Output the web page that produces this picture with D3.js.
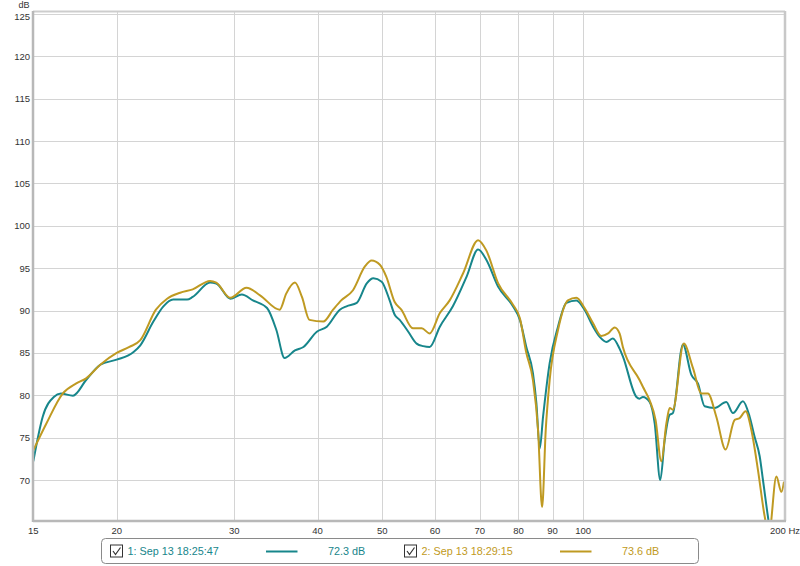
<!DOCTYPE html>
<html>
<head>
<meta charset="utf-8">
<script src="https://cdn.jsdelivr.net/npm/d3@7/dist/d3.min.js"></script>
<style>
  html, body { margin: 0; padding: 0; background: #fff; }
  svg { display: block; }
  text { font-family: "Liberation Sans", Arial, sans-serif; }
</style>
</head>
<body>
<svg id="chart" width="800" height="566"></svg>
<script>
// ---- Data ----
const xTicks = [15, 20, 30, 40, 50, 60, 70, 80, 90, 100, 200];
const xTickLabels = ["15", "20", "30", "40", "50", "60", "70", "80", "90", "100", "200 Hz"];
const yTicks = [70, 75, 80, 85, 90, 95, 100, 105, 110, 115, 120, 125];

const seriesNames = ["1: Sep 13 18:25:47", "2: Sep 13 18:29:15"];
const seriesLevels = ["72.3 dB", "73.6 dB"];
const seriesColors = ["#17868b", "#bf9a22"];

const freq1 = [15.0, 15.5, 16.1, 16.5, 17.2, 18.0, 18.9, 20.0, 21.2, 21.7, 22.7, 23.5, 24.3, 25.5, 26.0, 27.6, 28.2,
  29.6, 30.8, 32.0, 33.6, 34.7, 35.7, 37.0, 38.1, 39.9, 41.3, 43.2, 44.2, 45.8, 47.4, 48.5, 49.9, 51.3, 52.2,
  53.1, 54.7, 56.3, 57.6, 58.9, 61.0, 63.8, 66.9, 69.6, 71.6, 74.6, 78.5, 80.4, 82.2, 84.1, 85.1, 86.1, 87.1,
  89.1, 91.7, 94.4, 97.7, 100.5, 103.5, 105.9, 108.4, 110.8, 113.4, 114.7, 120.2, 121.5, 122.9, 125.8, 128.0,
  130.5, 132.5, 134.8, 136.3, 141.1, 145.3, 148.6, 152.1, 157.4, 163.9, 167.7, 173.6, 177.6, 180.7, 183.9,
  186.0, 189.2, 193.0, 200.0];
const db1 = [72.2, 77.5, 79.8, 80.2, 79.95, 81.8, 83.6, 84.2, 85.1, 85.9, 88.7, 90.5, 91.3, 91.3, 91.6, 93.3, 93.2,
  91.4, 91.9, 91.2, 90.3, 87.7, 84.4, 85.3, 85.7, 87.5, 88.1, 90.1, 90.5, 90.9, 93.2, 93.8, 93.4, 91.2, 89.5,
  88.9, 87.5, 86.1, 85.8, 85.7, 88.1, 90.5, 94.0, 97.2, 96.0, 92.8, 90.5, 88.9, 85.7, 82.6, 79.1, 73.7, 77.5,
  83.8, 88.1, 90.9, 91.2, 90.1, 88.1, 86.9, 86.3, 86.7, 85.5, 84.6, 79.8, 79.6, 79.8, 79.2, 76.7,
  70.0, 74.7, 77.7, 77.9, 86.0, 82.4, 81.4, 78.7, 78.5, 79.2, 77.9, 79.3, 77.5, 75.1, 72.8,
  70.0, 65.7, 61.5, 62.5];

const freq2 = [15.0, 15.7, 16.6, 17.4, 18.0, 18.9, 20.0, 20.9, 21.7, 22.9, 23.8, 24.9, 26.0, 27.6, 28.2, 29.6,
  31.3, 32.8, 35.1, 35.9, 37.0, 37.9, 38.9, 40.8, 42.2, 43.4, 45.2, 47.1, 48.2, 49.6, 50.7, 52.2, 53.4, 55.6,
  57.3, 58.9, 61.0, 63.1, 66.1, 69.6, 71.6, 74.6, 78.5, 80.4, 82.2, 84.1, 85.6, 86.8, 87.9, 89.1, 91.7, 94.9,
  97.7, 100.5, 103.5, 106.5, 109.0, 111.5, 113.4, 114.7, 121.5, 122.9, 125.8, 128.4, 131.0, 133.3, 134.8,
  136.3, 141.5, 146.1, 150.4, 153.8, 158.3, 163.5, 168.7, 171.6, 175.2, 178.7, 182.8, 187.1, 189.8, 194.8,
  198.2, 200.0];
const db2 = [73.5, 76.7, 80.2, 81.4, 82.0, 83.6, 85.0, 85.7, 86.5, 90.1, 91.4, 92.1, 92.5, 93.5, 93.3, 91.5,
  92.7, 91.8, 90.1, 92.0, 93.3, 91.6, 88.9, 88.7, 90.1, 91.2, 92.4, 95.2, 95.9, 95.4, 94.0, 91.0, 90.1, 87.9,
  87.9, 87.3, 89.7, 91.2, 94.4, 98.3, 97.1, 93.2, 90.7, 89.1, 85.0, 81.8, 75.9, 66.8, 75.9, 81.8, 87.7, 91.2,
  91.5, 90.3, 88.5, 87.0, 87.3, 88.0, 87.3, 85.7, 81.8, 81.0, 79.4, 77.1, 72.2, 76.7, 78.5,
  78.3, 86.1, 83.2, 80.2, 80.2, 77.5, 73.6, 77.1, 77.3, 78.1, 75.9, 71.2, 65.7, 63.5, 70.4,
  68.6, 69.8];

// ---- Layout ----
const plot = { left: 33, right: 785, top: 11, bottom: 521 };
const svg = d3.select("#chart");

const x = d3.scaleLog().domain([15, 200]).range([33.3, 784]);
const y = d3.scaleLinear().domain([70, 125]).range([480, 14]);

// grid
const grid = svg.append("g");
grid.selectAll("line.h").data(yTicks).join("line")
  .attr("x1", plot.left).attr("x2", plot.right)
  .attr("y1", d => Math.round(y(d)) + 0.5).attr("y2", d => Math.round(y(d)) + 0.5)
  .attr("stroke", "#d4d4d4").attr("stroke-width", 1);
grid.selectAll("line.v").data(xTicks).join("line")
  .attr("x1", d => Math.round(x(d)) + 0.5).attr("x2", d => Math.round(x(d)) + 0.5)
  .attr("y1", plot.top).attr("y2", plot.bottom)
  .attr("stroke", "#d4d4d4").attr("stroke-width", 1);

// clip
svg.append("clipPath").attr("id", "clip").append("rect")
  .attr("x", plot.left + 1).attr("y", plot.top + 1)
  .attr("width", plot.right - plot.left - 2).attr("height", plot.bottom - plot.top - 2);

const line = d3.line().x(d => x(d[0])).y(d => y(d[1])).curve(d3.curveMonotoneX);
const series = [
  d3.zip(freq1, db1),
  d3.zip(freq2, db2)
];
const lines = svg.append("g").attr("clip-path", "url(#clip)");
series.forEach((s, i) => {
  lines.append("path").datum(s)
    .attr("d", line)
    .attr("fill", "none")
    .attr("stroke", seriesColors[i])
    .attr("stroke-width", 2)
    .attr("stroke-linejoin", "round");
});

// frame
svg.append("line").attr("x1", plot.left).attr("x2", plot.right).attr("y1", plot.top + 0.5).attr("y2", plot.top + 0.5)
  .attr("stroke", "#cdcdcd").attr("stroke-width", 2);
svg.append("line").attr("x1", plot.right).attr("x2", plot.right).attr("y1", plot.top).attr("y2", plot.bottom)
  .attr("stroke", "#c8c8c8").attr("stroke-width", 2.5);
svg.append("line").attr("x1", plot.left).attr("x2", plot.left).attr("y1", plot.top).attr("y2", plot.bottom + 1)
  .attr("stroke", "#b8b8b8").attr("stroke-width", 2.5);
svg.append("line").attr("x1", plot.left).attr("x2", plot.right + 1).attr("y1", plot.bottom).attr("y2", plot.bottom)
  .attr("stroke", "#b8b8b8").attr("stroke-width", 2.5);

// y labels
svg.append("g").selectAll("text").data(yTicks).join("text")
  .attr("x", 30).attr("y", d => y(d) + (d === 125 ? 5.5 : 3.5))
  .attr("text-anchor", "end").attr("font-size", 9.5).attr("fill", "#333")
  .text(d => d);
svg.append("text").attr("x", 24).attr("y", 7.5).attr("text-anchor", "middle")
  .attr("font-size", 9).attr("fill", "#333").text("dB");

// x labels
svg.append("g").selectAll("text").data(xTicks).join("text")
  .attr("x", (d, i) => i === xTicks.length - 1 ? x(d) - 14 : x(d))
  .attr("y", 534)
  .attr("text-anchor", (d, i) => i === xTicks.length - 1 ? "start" : "middle")
  .attr("font-size", 9.5).attr("fill", "#333")
  .text((d, i) => xTickLabels[i]);

// legend
const leg = svg.append("g");
leg.append("rect").attr("x", 101.5).attr("y", 538.5).attr("width", 597).attr("height", 25)
  .attr("rx", 4).attr("fill", "#fff").attr("stroke", "#8a8a8a").attr("stroke-width", 1);
const legX = [110.5, 404.5];
seriesNames.forEach((name, i) => {
  const g = leg.append("g").attr("transform", `translate(${legX[i]},0)`);
  g.append("rect").attr("x", 0).attr("y", 545).attr("width", 12).attr("height", 12)
    .attr("fill", "#fff").attr("stroke", "#333").attr("stroke-width", 1);
  g.append("path").attr("d", "M2.5,551 L5,554.5 L10,547.5")
    .attr("fill", "none").attr("stroke", "#333").attr("stroke-width", 1.2);
  g.append("text").attr("x", 17).attr("y", 555).attr("font-size", 10.8)
    .attr("fill", seriesColors[i]).text(name);
  g.append("line").attr("x1", 155.5).attr("x2", 187).attr("y1", 551.5).attr("y2", 551.5)
    .attr("stroke", seriesColors[i]).attr("stroke-width", 2);
  g.append("text").attr("x", 217.5).attr("y", 555).attr("font-size", 10.8)
    .attr("fill", seriesColors[i]).text(seriesLevels[i]);
});
</script>
</body>
</html>
